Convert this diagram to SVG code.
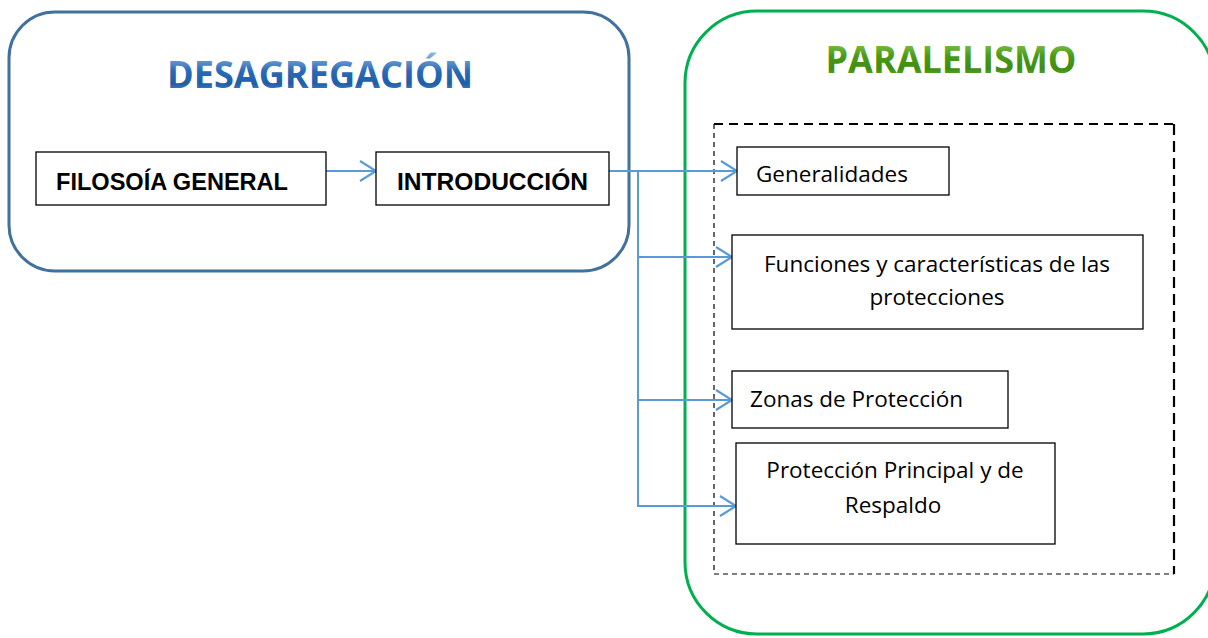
<svg xmlns="http://www.w3.org/2000/svg" width="1208" height="638" viewBox="0 0 1208 638">
<style>
.box{fill:#fff;stroke:#000;stroke-width:1.3}
.lbl{font-family:"Open Sans","Liberation Sans",sans-serif;font-size:22.5px;fill:#000}
.blbl{font-family:"Liberation Sans","Open Sans",sans-serif;font-size:24px;font-weight:bold;fill:#000}
.conn{fill:none;stroke:#5b9bd5;stroke-width:2}
.title{font-family:"Open Sans","Liberation Sans",sans-serif;font-size:37px;font-weight:bold}
</style>
<defs>
<marker id="arr" markerWidth="20" markerHeight="22" refX="18" refY="11" orient="auto" markerUnits="userSpaceOnUse">
<path d="M2,1 L18,11 L2,21" fill="none" stroke="#5b9bd5" stroke-width="2.2"/>
</marker>
<linearGradient id="gBlue" x1="0" y1="0" x2="0" y2="1">
<stop offset="0" stop-color="#a9cdf0"/>
<stop offset="0.45" stop-color="#2a6ab5"/>
<stop offset="0.7" stop-color="#1f5fa8"/>
<stop offset="1" stop-color="#6aa6de"/>
</linearGradient>
<linearGradient id="gGreen" x1="0" y1="0" x2="0" y2="1">
<stop offset="0" stop-color="#a8e06a"/>
<stop offset="0.45" stop-color="#4a9a18"/>
<stop offset="0.7" stop-color="#3f8c12"/>
<stop offset="1" stop-color="#7cc83e"/>
</linearGradient>
</defs>

<g id="desagregacion">
<rect x="9" y="12" width="620" height="259" rx="46" ry="46" fill="#fff" stroke="#41719c" stroke-width="3"/>
<text class="title" x="320" y="88" text-anchor="middle" fill="url(#gBlue)" textLength="306" lengthAdjust="spacingAndGlyphs">DESAGREGACIÓN</text>
</g>

<g id="paralelismo">
<rect x="685" y="11" width="530" height="623" rx="72" ry="72" fill="#fff" stroke="#00b050" stroke-width="3"/>
<text class="title" x="951" y="73" text-anchor="middle" fill="url(#gGreen)" textLength="251" lengthAdjust="spacingAndGlyphs">PARALELISMO</text>
</g>

<g id="grupo-dashed" fill="none" stroke="#000">
<line x1="714" y1="124" x2="1174" y2="124" stroke-width="2" stroke-dasharray="9,6"/>
<line x1="1174" y1="124" x2="1174" y2="574" stroke-width="2.2" stroke-dasharray="11,6"/>
<line x1="714" y1="124" x2="714" y2="574" stroke-width="1.2" stroke-dasharray="5,4"/>
<line x1="714" y1="574" x2="1174" y2="574" stroke-width="1.2" stroke-dasharray="5,4"/>
</g>

<g id="connectors">
<line class="conn" x1="326" y1="171" x2="376" y2="171" marker-end="url(#arr)"/>
<line class="conn" x1="609" y1="171" x2="737" y2="171" marker-end="url(#arr)"/>
<polyline class="conn" points="638,171 638,506"/>
<line class="conn" x1="638" y1="257" x2="732" y2="257" marker-end="url(#arr)"/>
<line class="conn" x1="638" y1="400" x2="732" y2="400" marker-end="url(#arr)"/>
<line class="conn" x1="637" y1="506" x2="736" y2="506" marker-end="url(#arr)"/>
</g>

<g id="filosofia">
<rect class="box" x="36" y="152" width="290" height="53"/>
<text class="blbl" x="56" y="190" textLength="232" lengthAdjust="spacingAndGlyphs">FILOSOÍA GENERAL</text>
</g>

<g id="introduccion">
<rect class="box" x="376" y="152" width="233" height="53"/>
<text class="blbl" x="397" y="190" textLength="191" lengthAdjust="spacingAndGlyphs">INTRODUCCIÓN</text>
</g>

<g id="generalidades">
<rect class="box" x="737" y="147" width="212" height="48"/>
<text class="lbl" x="756" y="182">Generalidades</text>
</g>

<g id="funciones">
<rect class="box" x="732" y="235" width="411" height="94"/>
<text class="lbl" x="937" y="272" text-anchor="middle">Funciones y características de las</text>
<text class="lbl" x="937" y="305" text-anchor="middle">protecciones</text>
</g>

<g id="zonas">
<rect class="box" x="732" y="371" width="276" height="57"/>
<text class="lbl" x="750" y="407">Zonas de Protección</text>
</g>

<g id="principal">
<rect class="box" x="736" y="443" width="319" height="101"/>
<text class="lbl" x="895" y="478" text-anchor="middle">Protección Principal y de</text>
<text class="lbl" x="893" y="513" text-anchor="middle">Respaldo</text>
</g>
</svg>
